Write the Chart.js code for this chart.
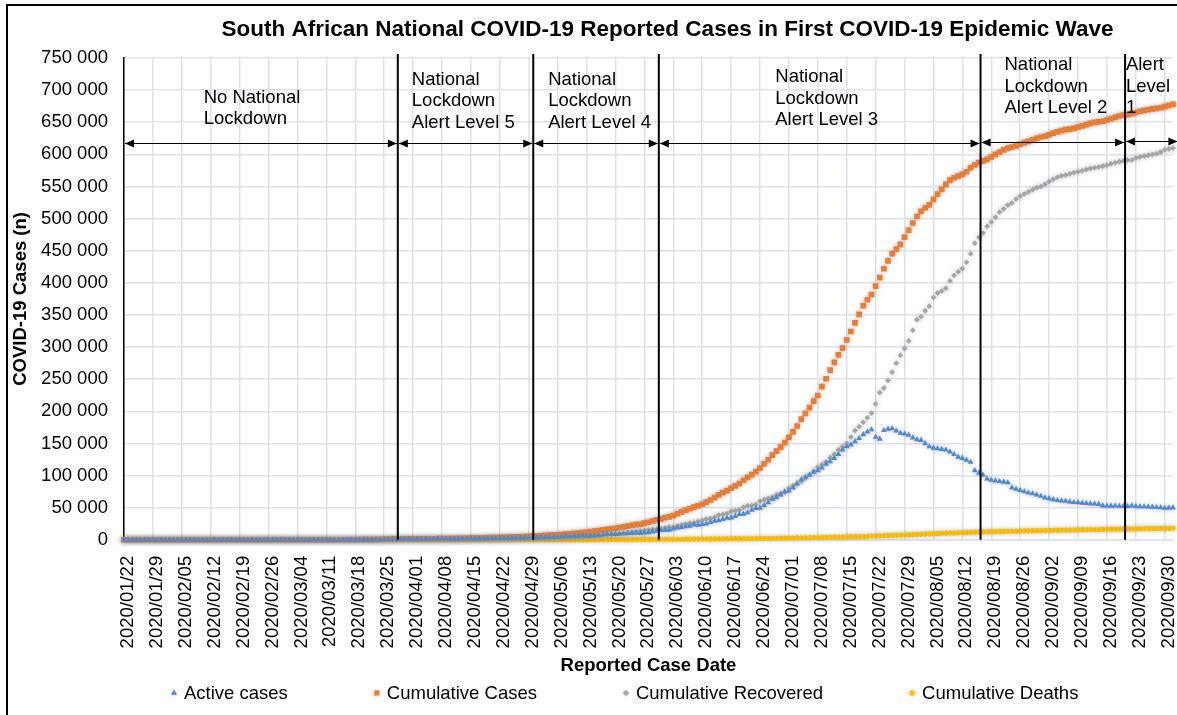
<!DOCTYPE html>
<html>
<head>
<meta charset="utf-8">
<title>South African COVID-19 first wave</title>
<script src="https://cdn.jsdelivr.net/npm/chart.js@4.4.0/dist/chart.umd.min.js"></script>
<style>
  html, body { margin: 0; padding: 0; background: #fff; overflow: hidden; }
  #wrap { position: relative; width: 1177px; height: 715px; }
  #frame { position: absolute; left: 6px; top: 4px; right: -10px; bottom: -10px;
           border-left: 2px solid #000; border-top: 2px solid #000; pointer-events: none; }
</style>
</head>
<body>
<div id="wrap">
  <canvas id="myChart" width="1177" height="715"></canvas>
  <div id="frame"></div>
</div>
<script>
// daily values, 2020/01/22 .. 2020/10/02 (first 43 days have no cases)
const activeCases = [
  0,0,0,0,0,0,0,0,0,0,0,0,0,0,0,0,0,0,0,0,0,0,0,0,0,0,0,0,0,0,0,0,0,0,0,0,0,0,0,0,0,0,0,
  // march 5-31
  1,1,2,3,7,7,13,17,24,38,51,62,85,116,150,202,240,274,402,554,709,927,1138,1154,1247,1292,1317,
  // april
  1344,1408,1446,1479,1548,1579,1641,1732,1821,1569,1593,1738,1835,1971,2048,1652,1828,2077,2045,2187,
  2345,2505,2684,2661,2801,2983,3227,3430,3174,3471,
  // may
  3466,3664,3906,4336,4271,4345,4761,5407,5251,5648,6089,6774,6172,6023,6799,6796,7953,8849,8928,8714,
  9250,9624,10202,10237,10445,10289,11015,11489,12513,13515,14709,
  // june
  15339,15375,17051,18633,19438,20657,21350,23700,23072,24136,24909,27321,29307,30027,32098,33828,34407,36731,39520,40252,
  42466,46155,48961,49617,53563,58139,63058,65761,69912,75009,
  // july
  76285,80919,87874,93724,97703,100676,105511,108002,112000,118000,122000,127000,133000,140000,145000,148000,153000,158000,164000,168000,
  171500,160000,157000,170500,172500,173000,169500,166000,165000,163000,158900,
  // august
  156000,155000,150000,145000,143000,142000,141000,140000,137000,133000,129000,127000,124000,121000,108000,104000,101000,95000,93000,92000,
  91000,90000,89000,81000,79000,77000,75000,73000,72000,70000,68000,
  // september
  65500,64200,62800,61500,60900,60300,59200,58400,58100,57300,56800,56200,55900,55400,53100,52900,52600,52800,52500,52300,
  52000,53000,52100,51800,51700,51300,51100,50600,50100,49400,
  // october 1-2
  49600,49900
];

const cumulativeCases = [
  0,0,0,0,0,0,0,0,0,0,0,0,0,0,0,0,0,0,0,0,0,0,0,0,0,0,0,0,0,0,0,0,0,0,0,0,0,0,0,0,0,0,0,
  1,1,2,3,7,7,13,17,24,38,51,62,85,116,150,202,240,274,402,554,709,927,1170,1187,1280,1326,1353,
  1380,1462,1505,1585,1655,1686,1749,1845,1934,2003,2028,2173,2272,2415,2506,2605,2783,3034,3158,3300,
  3465,3635,3953,4220,4361,4546,4793,4996,5350,5647,
  5951,6336,6783,7220,7572,7808,8232,8895,9420,10015,10652,11350,12074,12739,13524,14355,15515,16433,17200,18003,
  19137,20125,21343,22583,23615,24264,25937,27403,29240,30967,32683,
  34357,35812,37525,40792,43434,45973,48285,50879,52991,55421,58568,61927,65736,70038,73533,76334,80412,83890,87715,92681,
  97302,101590,106108,111796,118375,124590,131800,138134,144264,151209,
  159333,168061,177124,187977,196750,205721,215855,224665,238339,250687,264184,276242,287796,298292,311049,324221,337594,350879,364328,373628,
  381798,394948,408052,421996,434200,445433,452529,459761,471123,482169,493183,
  503290,511485,516862,521318,529877,538184,545476,553188,559859,563598,566109,568919,572865,579140,583653,587345,589886,592144,596060,599940,
  603338,607045,609773,611450,613017,615701,618286,620132,622551,625056,627041,
  628259,630595,633015,635078,636884,638517,639362,640441,642431,644438,646398,648214,649793,650749,651521,653444,655572,657627,659656,661211,
  661936,663282,665188,667049,668529,669498,670766,671669,672572,674339,
  676084,677833
];

const cumulativeRecovered = [
  0,0,0,0,0,0,0,0,0,0,0,0,0,0,0,0,0,0,0,0,0,0,0,0,0,0,0,0,0,0,0,0,0,0,0,0,0,0,0,0,0,0,0,
  0,0,0,0,0,0,0,0,0,0,0,0,0,0,0,0,0,0,0,0,0,0,31,31,31,31,31,
  31,45,50,95,95,95,95,95,95,410,410,410,410,410,410,903,903,903,1055,1055,
  1055,1055,1190,1473,1473,1473,1473,1473,2073,2073,
  2382,2549,2746,2746,3153,3310,3310,3310,3983,4173,4357,4357,5676,6478,6478,7298,7298,7298,7960,8950,
  9518,10104,10734,11917,12689,13451,14370,15337,16116,16809,17291,
  18313,19682,19682,21311,23088,24364,25937,26099,28757,30075,32375,33252,35006,38531,39867,40881,44331,45422,46364,50552,
  52906,53444,55045,59974,62520,64111,66329,69917,71823,73543,
  80299,84298,86298,91227,95848,101735,106842,113061,117000,121451,128000,133000,140000,145000,150000,160000,170000,176000,183000,190000,
  197177,211660,229175,236260,248000,261000,274925,287313,297967,309601,326171,
  342461,347227,356420,363751,377266,384091,387316,391500,402955,411474,417200,422126,432029,445313,461734,470983,477671,487903,494739,502184,
  510120,515209,521004,524389,530522,535212,538386,541672,544937,548214,549993,
  553456,557818,561204,564406,566555,567729,569644,571579,573013,574587,576423,577906,579101,580376,581687,583126,585303,587007,588647,590071,
  591208,591208,594229,595916,597041,598435,599670,601110,603512,607092,
  608500,609800
];

const cumulativeDeaths = [
  0,0,0,0,0,0,0,0,0,0,0,0,0,0,0,0,0,0,0,0,0,0,0,0,0,0,0,0,0,0,0,0,0,0,0,0,0,0,0,0,0,0,0,
  0,0,0,0,0,0,0,0,0,0,0,0,0,0,0,0,0,0,0,0,0,0,1,2,2,3,5,
  5,9,9,11,12,12,13,18,18,24,25,25,27,34,48,50,52,54,58,58,
  65,75,79,86,87,90,93,93,103,103,
  103,123,131,138,148,153,161,178,186,194,206,219,226,238,247,261,264,286,312,339,
  369,397,407,429,481,524,552,577,611,643,683,
  705,755,792,848,908,952,998,1080,1162,1210,1284,1354,1423,1480,1568,1625,1674,1737,1831,1877,
  1930,1991,2102,2205,2292,2340,2413,2456,2529,2657,
  2749,2844,2952,3026,3199,3310,3502,3602,3720,3860,3971,4079,4172,4346,4453,4804,4948,5033,5173,5368,
  5940,6093,6343,6655,6769,7067,7257,7497,7812,8005,8153,
  8366,8539,8884,9298,9604,9909,10210,10408,10621,10751,11010,11270,11556,11677,11839,11982,12264,12423,12618,12843,
  12987,13059,13159,13308,13502,13743,13981,14028,14149,14263,14389,
  14563,14678,14889,15004,15086,15168,15265,15427,15499,15705,15857,15953,15992,16066,16283,16398,16586,16667,16734,16938,
  16976,17016,17103,17248,17408,17451,17547,17608,17673,17863,
  18028,18152
];

// category labels: one per reported day
const dates = [];
const firstDay = Date.UTC(2020, 0, 22);
for (let i = 0; i < cumulativeCases.length; i++) {
  const d = new Date(firstDay + i * 86400000);
  dates.push(d.getUTCFullYear() + '/' + String(d.getUTCMonth() + 1).padStart(2, '0') + '/' + String(d.getUTCDate()).padStart(2, '0'));
}

// lockdown phases: day index of each boundary line, and the notes above them
const phaseEdges = [66.3, 99.1, 129.5, 207.4, 242.4];
const arrowLevels = [617700, 617700, 617700, 617700, 619500, 620800];
const phaseNotes = [
  { lines: ['No National', 'Lockdown'], day: 19.3, value: 688000 },
  { lines: ['National', 'Lockdown', 'Alert Level 5'], day: 69.7, value: 716000 },
  { lines: ['National', 'Lockdown', 'Alert Level 4'], day: 102.7, value: 716000 },
  { lines: ['National', 'Lockdown', 'Alert Level 3'], day: 157.7, value: 720500 },
  { lines: ['National', 'Lockdown', 'Alert Level 2'], day: 213.2, value: 739000 },
  { lines: ['Alert', 'Level', '1'], day: 242.6, value: 739000 }
];

const FONT = '"Liberation Sans", Arial, Helvetica, sans-serif';
const gridColor = '#dde1ea';
Chart.defaults.font.family = FONT;
Chart.defaults.color = '#000';

function spaced(v) {
  return String(v).replace(/\B(?=(\d{3})+(?!\d))/g, ' ');
}

function drawMarker(ctx, style, x, y, r, color) {
  ctx.save();
  ctx.shadowColor = 'rgba(140,140,140,0.6)';
  ctx.shadowBlur = 3;
  ctx.fillStyle = color;
  ctx.beginPath();
  if (style === 'triangle') {
    ctx.moveTo(x, y - r);
    ctx.lineTo(x + r * 0.87, y + r * 0.5);
    ctx.lineTo(x - r * 0.87, y + r * 0.5);
  } else if (style === 'rect') {
    ctx.rect(x - r * 0.7, y - r * 0.7, r * 1.4, r * 1.4);
  } else if (style === 'rectRot') {
    ctx.moveTo(x, y - r); ctx.lineTo(x + r, y); ctx.lineTo(x, y + r); ctx.lineTo(x - r, y);
  } else {
    ctx.arc(x, y, r, 0, Math.PI * 2);
  }
  ctx.closePath();
  ctx.fill();
  ctx.restore();
}

function arrowHead(ctx, tipX, y, dir) {
  ctx.beginPath();
  ctx.moveTo(tipX, y);
  ctx.lineTo(tipX - dir * 9, y - 4);
  ctx.lineTo(tipX - dir * 9, y + 4);
  ctx.closePath();
  ctx.fill();
}

// soft grey glow round every marker
const markerGlow = {
  id: 'markerGlow',
  beforeDatasetsDraw(chart) {
    chart.ctx.save();
    chart.ctx.shadowColor = 'rgba(140,140,140,0.55)';
    chart.ctx.shadowBlur = 4;
  },
  afterDatasetsDraw(chart) {
    chart.ctx.restore();
  }
};

// lockdown boundaries, arrows and notes
const lockdownPhases = {
  id: 'lockdownPhases',
  afterDatasetsDraw(chart) {
    const { ctx, chartArea, scales: { x, y } } = chart;
    ctx.save();
    ctx.strokeStyle = '#000';
    ctx.fillStyle = '#000';

    ctx.lineWidth = 2;
    phaseEdges.forEach(d => {
      const px = x.getPixelForValue(d);
      ctx.beginPath();
      ctx.moveTo(px, chartArea.top - 4);
      ctx.lineTo(px, chartArea.bottom);
      ctx.stroke();
    });

    ctx.lineWidth = 1;
    const stops = [0, ...phaseEdges, x.max + 1.3];
    for (let i = 0; i < stops.length - 1; i++) {
      const x1 = x.getPixelForValue(stops[i]) + 1;
      const x2 = x.getPixelForValue(stops[i + 1]) - 1;
      const py = Math.round(y.getPixelForValue(arrowLevels[i])) + 0.5;
      ctx.beginPath();
      ctx.moveTo(x1, py);
      ctx.lineTo(x2, py);
      ctx.stroke();
      arrowHead(ctx, x1, py, -1);
      arrowHead(ctx, x2, py, 1);
    }

    ctx.font = '18.5px ' + FONT;
    ctx.textBaseline = 'middle';
    ctx.textAlign = 'left';
    phaseNotes.forEach(n => {
      const px = x.getPixelForValue(n.day);
      const py = y.getPixelForValue(n.value);
      n.lines.forEach((t, k) => ctx.fillText(t, px, py + k * 21.5));
    });
    ctx.restore();
  }
};

// legend row under the axis title
const legendRow = {
  id: 'legendRow',
  afterDraw(chart) {
    const ctx = chart.ctx;
    const sizes = { triangle: 3.4, rect: 3.6, rectRot: 3, circle: 2.7 };
    ctx.save();
    ctx.font = '18.5px ' + FONT;
    ctx.textBaseline = 'middle';
    ctx.fillStyle = '#000';
    let px = 171;
    chart.data.datasets.forEach(ds => {
      drawMarker(ctx, ds.pointStyle, px + 3, 693, sizes[ds.pointStyle], ds.backgroundColor);
      ctx.fillStyle = '#000';
      ctx.fillText(ds.label, px + 13, 693.5);
      px += 13 + ctx.measureText(ds.label).width + 86;
    });
    ctx.restore();
  }
};

// the title sits right of the canvas centre in the original
const titleShift = {
  id: 'titleShift',
  afterLayout(chart) {
    const t = chart.titleBlock;
    if (t) { t.left += 75; t.right += 75; }
  }
};

const ctx = document.getElementById('myChart');

new Chart(ctx, {
  type: 'line',
  data: {
    labels: dates,
    datasets: [
      { label: 'Active cases', data: activeCases, pointStyle: 'triangle', pointRadius: 3.4,
        backgroundColor: '#4a8ad4', borderColor: '#4a8ad4' },
      { label: 'Cumulative Cases', data: cumulativeCases, pointStyle: 'rect', pointRadius: 4,
        backgroundColor: '#ed7d31', borderColor: '#ed7d31' },
      { label: 'Cumulative Recovered', data: cumulativeRecovered, pointStyle: 'rectRot', pointRadius: 2.8,
        backgroundColor: '#a5a5a5', borderColor: '#a5a5a5' },
      { label: 'Cumulative Deaths', data: cumulativeDeaths, pointStyle: 'circle', pointRadius: 2.6,
        backgroundColor: '#ffc000', borderColor: '#ffc000' }
    ].map(ds => Object.assign(ds, { showLine: false, pointBorderWidth: 0, pointHoverRadius: 3, clip: 8 }))
  },
  options: {
    responsive: false,
    animation: false,
    devicePixelRatio: 1,
    layout: { padding: { top: 0, left: 8, right: 0, bottom: 40 } },
    plugins: {
      legend: { display: false },
      tooltip: { enabled: false },
      title: {
        display: true,
        text: 'South African National COVID-19 Reported Cases in First COVID-19 Epidemic Wave',
        color: '#000',
        font: { size: 22.5, weight: 'bold' },
        padding: { top: 16.5, bottom: 14.5 }
      }
    },
    scales: {
      x: {
        type: 'category',
        offset: false,
        grid: {
          // invisible tick marks give the label gap without reserving room on the right
          drawTicks: true,
          tickLength: 16,
          tickColor: 'rgba(0,0,0,0)',
          lineWidth: 1.5,
          color: c => (c.index % 7 === 0 ? gridColor : 'rgba(0,0,0,0)')
        },
        border: { color: gridColor, width: 1.5 },
        ticks: {
          autoSkip: false,
          maxRotation: 90,
          minRotation: 90,
          padding: 0,
          labelOffset: 4,
          color: '#000',
          font: { size: 18.5 },
          // weekly labels; an empty array keeps the other days without size
          callback: function (value, index) {
            return index % 7 === 0 ? this.getLabelForValue(value) : [];
          }
        },
        title: {
          display: true,
          text: 'Reported Case Date',
          color: '#000',
          font: { size: 18.5, weight: 'bold' },
          padding: { top: 6.4, bottom: -2 }
        }
      },
      y: {
        min: 0,
        max: 750000,
        grid: { drawTicks: false, color: gridColor, lineWidth: 1.5 },
        border: { color: '#000', width: 1.5 },
        ticks: {
          stepSize: 50000,
          padding: 16,
          color: '#000',
          font: { size: 18.5 },
          callback: v => spaced(v)
        },
        title: {
          display: true,
          text: 'COVID-19 Cases (n)',
          color: '#000',
          font: { size: 18.5, weight: 'bold' },
          padding: { top: 2, bottom: -7.1 }
        }
      }
    }
  },
  plugins: [markerGlow, lockdownPhases, legendRow, titleShift]
});
</script>
</body>
</html>
